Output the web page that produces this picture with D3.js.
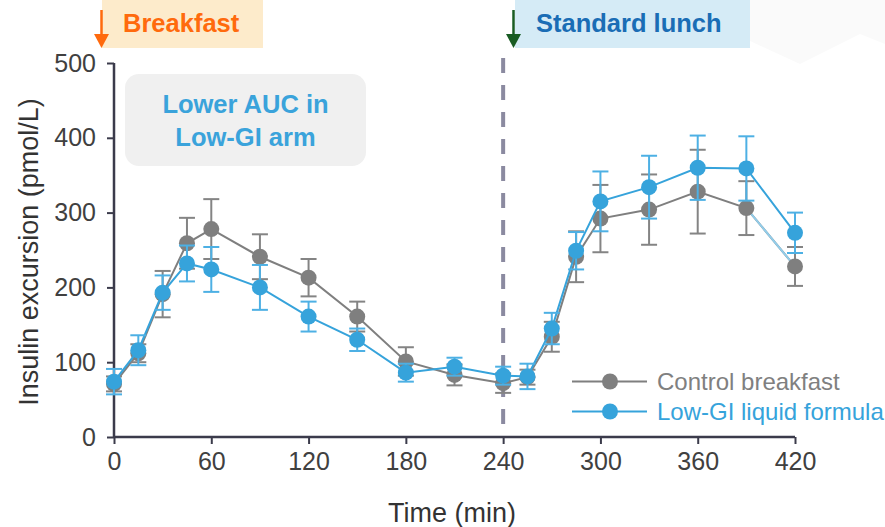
<!DOCTYPE html>
<html>
<head>
<meta charset="utf-8">
<script src="https://cdn.jsdelivr.net/npm/d3@7"></script>
<style>
  html, body { margin: 0; padding: 0; background: #fff; }
  svg { display: block; font-family: "Liberation Sans", Arial, sans-serif; }
</style>
</head>
<body>
<svg width="885" height="527"></svg>
<script>
// Data
const times = [0, 15, 30, 45, 60, 90, 120, 150, 180, 210, 240, 255, 270, 285, 300, 330, 360, 390, 420];
const control = [71, 112, 191, 259, 278, 241, 213, 161, 101, 83, 72, 80, 134, 241, 292, 304, 328, 306, 228];
const controlErr = [10, 12, 31, 34, 40, 30, 25, 20, 19, 14, 13, 10, 20, 34, 45, 47, 56, 36, 26];
const lowGI = [74, 116, 193, 232, 224, 200, 161, 130, 86, 94, 82, 81, 145, 249, 315, 334, 360, 359, 273];
const lowGIErr = [17, 20, 23, 24, 30, 30, 20, 15, 12, 12, 12, 17, 21, 25, 40, 42, 43, 43, 27];
const xTicks = [0, 60, 120, 180, 240, 300, 360, 420];
const yTicks = [0, 100, 200, 300, 400, 500];
const seriesNames = ["Control breakfast", "Low-GI liquid formula"];
const lunchTime = 240;

// Colours
const GRAY = "#7f7f7f";
const GRAY_ERR = "#848484";
const BLUE = "#36a3db";
const BLUE_ERR = "#4db0e4";
const LIGHT_BLUE = "#92cdea";
const AXIS = "#3b3b4b";
const TEXT = "#404040";

const svg = d3.select("svg");

const x = d3.scaleLinear().domain([0, 420]).range([114, 795]);
const y = d3.scaleLinear().domain([0, 500]).range([437, 63]);

// faint background decoration, top right
svg.append("polygon")
  .attr("points", "748,0 748,40 800,64 860,34 885,44 885,0")
  .attr("fill", "#fafafa");

// header boxes
svg.append("rect").attr("x", 102).attr("y", 0).attr("width", 161).attr("height", 48).attr("fill", "#fdebcb");
svg.append("text").attr("x", 123).attr("y", 32).text("Breakfast")
  .attr("font-size", 25.5).attr("font-weight", "bold").attr("fill", "#ff6a0d");
svg.append("rect").attr("x", 515).attr("y", 0).attr("width", 235).attr("height", 48).attr("fill", "#d5ebf6");
svg.append("text").attr("x", 536).attr("y", 32).text("Standard lunch")
  .attr("font-size", 25.5).attr("font-weight", "bold").attr("fill", "#1a6db5");

const drawArrow = (cx, color) => {
  svg.append("line").attr("x1", cx).attr("x2", cx).attr("y1", 10).attr("y2", 38)
    .attr("stroke", color).attr("stroke-width", 2.5);
  svg.append("path")
    .attr("d", `M${cx - 7.5},${34} L${cx + 7.5},${34} L${cx},${48} Z`)
    .attr("fill", color);
};
drawArrow(101.5, "#ff6a0d");
drawArrow(513.5, "#195c23");

// annotation box
svg.append("rect").attr("x", 125).attr("y", 74).attr("width", 241).attr("height", 92)
  .attr("rx", 14).attr("fill", "#f0f0f0");
svg.append("text").attr("x", 245.5).attr("y", 113).attr("text-anchor", "middle")
  .attr("font-size", 25.5).attr("font-weight", "bold").attr("fill", "#3aa3db").text("Lower AUC in");
svg.append("text").attr("x", 245.5).attr("y", 145.5).attr("text-anchor", "middle")
  .attr("font-size", 25.5).attr("font-weight", "bold").attr("fill", "#3aa3db").text("Low-GI arm");

// lunch marker line
svg.append("line")
  .attr("x1", x(lunchTime)).attr("x2", x(lunchTime))
  .attr("y1", y(500) - 5).attr("y2", y(0))
  .attr("stroke", "#8b8aa0").attr("stroke-width", 4)
  .attr("stroke-dasharray", "15,12");

// axes
const yAxis = svg.append("g").attr("transform", `translate(${x(0)},0)`)
  .call(d3.axisLeft(y).tickValues(yTicks).tickSize(7).tickPadding(11));
const xAxis = svg.append("g").attr("transform", `translate(0,${y(0)})`)
  .call(d3.axisBottom(x).tickValues(xTicks).tickSize(7).tickPadding(8));
[xAxis, yAxis].forEach(a => {
  a.select(".domain").attr("stroke", AXIS).attr("stroke-width", 2.5);
  a.selectAll(".tick line").attr("stroke", AXIS).attr("stroke-width", 2);
  a.selectAll(".tick text").attr("fill", TEXT).attr("font-size", 25)
    .attr("font-family", "Liberation Sans, Arial, sans-serif");
});
// drop the outer tick stubs so the domain is a plain line
xAxis.select(".domain").attr("d", `M${x(0)},0H${x(420)}`);
yAxis.select(".domain").attr("d", `M0,${y(0)}V${y(500)}`);

svg.append("text")
  .attr("transform", `translate(38,${(y(0) + y(500)) / 2 + 2}) rotate(-90)`)
  .attr("text-anchor", "middle").attr("font-size", 27).attr("fill", "#333").text("Insulin excursion (pmol/L)");
svg.append("text")
  .attr("x", 452).attr("y", 522).attr("text-anchor", "middle")
  .attr("font-size", 27).attr("fill", "#333").text("Time (min)");

// series
const line = d3.line().x(d => x(d[0])).y(d => y(d[1]));

const drawSeries = (values, errs, color, errColor) => {
  const pts = times.map((t, i) => [t, values[i], errs[i]]);
  const g = svg.append("g");
  g.append("path").datum(pts).attr("d", line)
    .attr("fill", "none").attr("stroke", color).attr("stroke-width", 2);
  const eb = g.selectAll(".eb").data(pts).join("g").attr("class", "eb");
  eb.append("line")
    .attr("x1", d => x(d[0])).attr("x2", d => x(d[0]))
    .attr("y1", d => y(d[1] + d[2])).attr("y2", d => y(d[1] - d[2]))
    .attr("stroke", errColor).attr("stroke-width", 2);
  eb.append("line")
    .attr("x1", d => x(d[0]) - 8).attr("x2", d => x(d[0]) + 8)
    .attr("y1", d => y(d[1] + d[2])).attr("y2", d => y(d[1] + d[2]))
    .attr("stroke", errColor).attr("stroke-width", 2);
  eb.append("line")
    .attr("x1", d => x(d[0]) - 8).attr("x2", d => x(d[0]) + 8)
    .attr("y1", d => y(d[1] - d[2])).attr("y2", d => y(d[1] - d[2]))
    .attr("stroke", errColor).attr("stroke-width", 2);
  return { g, pts };
};

const ctrl = drawSeries(control, controlErr, GRAY, GRAY_ERR);
// the last control segment is drawn light blue in the original
ctrl.g.append("path").datum(ctrl.pts.slice(-2)).attr("d", line)
  .attr("fill", "none").attr("stroke", LIGHT_BLUE).attr("stroke-width", 2);
ctrl.g.selectAll("circle").data(ctrl.pts).join("circle")
  .attr("cx", d => x(d[0])).attr("cy", d => y(d[1])).attr("r", 8).attr("fill", GRAY);

const low = drawSeries(lowGI, lowGIErr, BLUE, BLUE_ERR);
low.g.selectAll("circle").data(low.pts).join("circle")
  .attr("cx", d => x(d[0])).attr("cy", d => y(d[1])).attr("r", 8).attr("fill", BLUE);

// legend
const legend = svg.append("g");
[[GRAY, 381.5], [BLUE, 411.5]].forEach(([c, ly], i) => {
  legend.append("line").attr("x1", 572).attr("x2", 647).attr("y1", ly).attr("y2", ly)
    .attr("stroke", c).attr("stroke-width", 2);
  legend.append("circle").attr("cx", 610).attr("cy", ly).attr("r", 8).attr("fill", c);
  legend.append("text").attr("x", 657).attr("y", ly + 8).attr("font-size", 24)
    .attr("fill", c === GRAY ? "#808080" : BLUE).text(seriesNames[i]);
});
</script>
</body>
</html>
